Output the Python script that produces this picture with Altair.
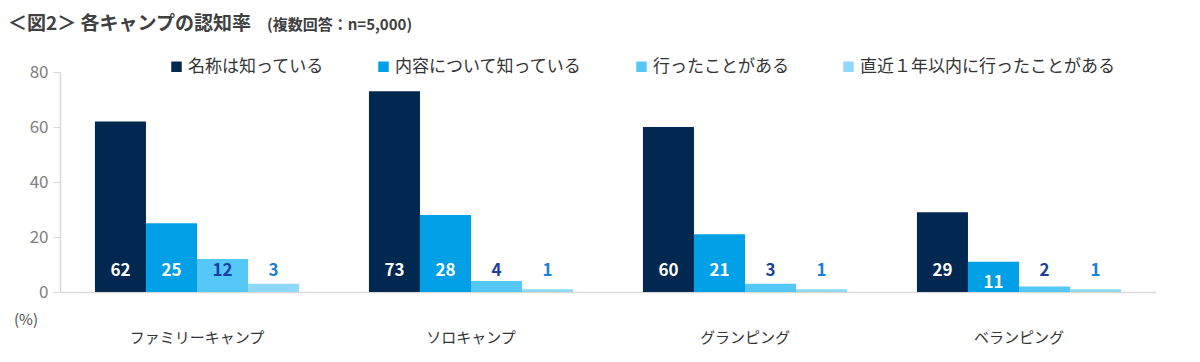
import altair as alt
import pandas as pd

categories = ["ファミリーキャンプ", "ソロキャンプ", "グランピング", "ベランピング"]
series = ["名称は知っている", "内容について知っている", "行ったことがある", "直近１年以内に行ったことがある"]
values = {
    "名称は知っている": [62, 73, 60, 29],
    "内容について知っている": [25, 28, 21, 11],
    "行ったことがある": [12, 4, 3, 2],
    "直近１年以内に行ったことがある": [3, 1, 1, 1],
}
bar_colors = ["#002850", "#00a0e6", "#55c8f8", "#8fd8fa"]
label_colors = ["#ffffff", "#ffffff", "#1a3f9e", "#1b7fd6"]

rows = []
for s in series:
    for c, v in zip(categories, values[s]):
        rows.append({"cat": c, "series": s, "value": v})
df = pd.DataFrame(rows)

FONT = "Noto Sans CJK JP"

x = alt.X("cat:N", sort=categories, title=None,
          scale=alt.Scale(paddingInner=0.255, paddingOuter=0.1275),
          axis=alt.Axis(labelAngle=0, labelFontSize=15, labelColor="#333333",
                        labelFont=FONT, labelPadding=38, ticks=False,
                        domainColor="#d9d9d9", domainWidth=1.5))
xo = alt.XOffset("series:N", sort=series, scale=alt.Scale(paddingInner=0, paddingOuter=0))

bars = alt.Chart(df).mark_bar().encode(
    x=x, xOffset=xo,
    y=alt.Y("value:Q", title=None,
            scale=alt.Scale(domain=[0, 80]),
            axis=alt.Axis(values=[0, 20, 40, 60, 80], grid=False, labelFontSize=17,
                          labelColor="#808080", labelFont=FONT, tickSize=7,
                          tickColor="#d9d9d9", domainColor="#d9d9d9", domainWidth=1.5,
                          labelPadding=5)),
    color=alt.Color("series:N", sort=series,
                    scale=alt.Scale(domain=series, range=bar_colors),
                    legend=alt.Legend(title=None, orient="none", direction="horizontal",
                                      legendX=108, legendY=-14, symbolType="square",
                                      symbolSize=110, symbolStrokeWidth=0,
                                      labelFontSize=17, labelColor="#333333",
                                      labelFont=FONT, labelLimit=400,
                                      columnPadding=51, symbolOffset=0,
                                      labelOffset=3)),
)

labels = alt.Chart(df).transform_calculate(
    ly="datum.value > 5 && datum.value < 12 ? 3.3 : 7.6"
).mark_text(fontSize=17, fontWeight="bold", font=FONT, baseline="middle").encode(
    x=x, xOffset=xo,
    y=alt.Y("ly:Q"),
    text=alt.Text("value:Q"),
    color=alt.Color("series:N", scale=alt.Scale(domain=series, range=label_colors), legend=None),
)

one = pd.DataFrame({"a": [0]})
title1 = alt.Chart(one).mark_text(text="＜図2＞ 各キャンプの認知率", fontSize=19, fontWeight="bold",
                                  font=FONT, color="#404040", align="left", baseline="middle").encode(
    x=alt.value(-52), y=alt.value(-48))
title2 = alt.Chart(one).mark_text(text="(複数回答：n=5,000)", fontSize=15, fontWeight="bold",
                                  font=FONT, color="#404040", align="left", baseline="middle").encode(
    x=alt.value(207), y=alt.value(-47))
pct = alt.Chart(one).mark_text(text="(%)", fontSize=15, font=FONT, color="#505050",
                               align="left", baseline="middle").encode(
    x=alt.value(-46), y=alt.value(248))

chart = alt.layer(bars, labels, title1, title2, pct).resolve_scale(color="independent").properties(
    width=1096, height=220,
    autosize=alt.AutoSizeParams(type="none"),
    padding={"left": 52, "top": 64, "right": 28, "bottom": 60},
).configure_view(stroke=None)

chart.save("out.html", embed_options={"renderer": "svg", "actions": False})
